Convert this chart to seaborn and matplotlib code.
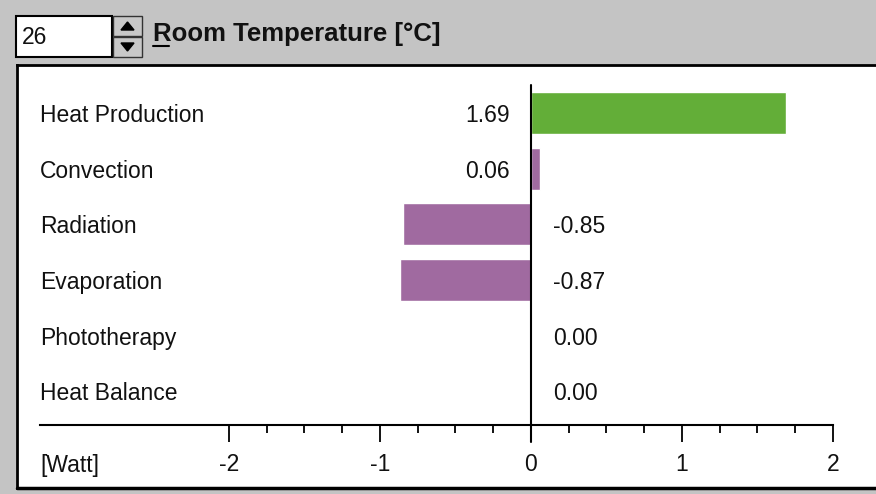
import numpy as np
import pandas as pd
import seaborn as sns
import matplotlib.pyplot as plt
from matplotlib.patches import Rectangle, Polygon
from matplotlib.lines import Line2D
from matplotlib.ticker import FixedLocator

# Data
categories = ["Heat Production", "Convection", "Radiation", "Evaporation",
              "Phototherapy", "Heat Balance"]
values = [1.69, 0.06, -0.85, -0.87, 0.00, 0.00]
bar_colors = ["#63ae38", "#a06aa0", "#a06aa0", "#a06aa0", "#a06aa0", "#a06aa0"]
major_ticks = [-2, -1, 0, 1, 2]
room_temp = "26"

W, H = 876, 494
GRAY = "#c4c4c4"
FS = 16.5

sns.set_style("white")
plt.rcParams["font.family"] = ["Liberation Sans", "DejaVu Sans"]

fig = plt.figure(figsize=(W / 100, H / 100), dpi=100, facecolor=GRAY)


def fx(x):
    return x / W


def fy(y):
    return 1 - y / H


# plot panel (white area)
ax = fig.add_axes([fx(17), fy(488), fx(876) - fx(17), fy(65) - fy(488)])
ax.set_facecolor("white")

df = pd.DataFrame({"category": categories, "value": values})
sns.barplot(data=df, x="value", y="category", hue="category",
            palette=bar_colors, legend=False, width=0.755, orient="h",
            saturation=1, ax=ax)

ax.set_xlim(-3.404, 2.285)
ax.set_ylim(6.745, -0.863)
ax.set_xlabel("")
ax.set_ylabel("")
ax.set_yticks([])

# panel border
for s in ["left", "top"]:
    ax.spines[s].set_visible(True)
    ax.spines[s].set_color("black")
    ax.spines[s].set_linewidth(2)
ax.spines["right"].set_visible(False)
ax.plot([0, 1], [0, 0], transform=ax.transAxes, color="black", lw=2.5,
        clip_on=False)

# axis line with ticks
ax.spines["bottom"].set_visible(True)
ax.spines["bottom"].set_position(("data", 5.612))
ax.spines["bottom"].set_bounds(-3.25, 2)
ax.spines["bottom"].set_color("black")
ax.spines["bottom"].set_linewidth(1.5)
ax.xaxis.set_major_locator(FixedLocator(major_ticks))
ax.xaxis.set_minor_locator(FixedLocator(np.arange(-2, 2.01, 0.25)))
ax.set_xticklabels([str(t) for t in major_ticks])
ax.tick_params(axis="x", which="major", direction="out", length=12.5,
               width=1.3, color="black", pad=8, labelsize=FS,
               labelcolor="#111111", bottom=True)
ax.tick_params(axis="x", which="minor", direction="out", length=6,
               width=1.3, color="black", bottom=True)

# zero line
ax.axvline(0, ymin=0.109, ymax=0.953, color="black", lw=1.5)

# category names and values
for i, (cat, v) in enumerate(zip(categories, values)):
    ax.annotate(cat, xy=(-3.25, i), xytext=(0, -2), textcoords="offset points",
                ha="left", va="center", fontsize=FS, color="#111111")
    if v > 0:
        ax.annotate(f"{v:.2f}", xy=(0, i), xytext=(-15, -2),
                    textcoords="offset points", ha="right", va="center",
                    fontsize=FS, color="#111111")
    else:
        ax.annotate(f"{v:.2f}", xy=(0, i), xytext=(16, -2),
                    textcoords="offset points", ha="left", va="center",
                    fontsize=FS, color="#111111")

ax.text(-3.25, 6.34, "[Watt]", ha="left", va="center", fontsize=FS,
        color="#111111")

# top bar: spin box with room temperature
fig.add_artist(Rectangle((fx(16), fy(57)), fx(96), fy(16) - fy(57),
                         transform=fig.transFigure, facecolor="white",
                         edgecolor="black", lw=1.5))
fig.text(fx(22), fy(37), room_temp, ha="left", va="center", fontsize=FS,
         color="#111111")
for y0, y1, up in [(16, 36, True), (37, 57, False)]:
    fig.add_artist(Rectangle((fx(113), fy(y1)), fx(29), fy(y0) - fy(y1),
                             transform=fig.transFigure, facecolor="#c8c8c8",
                             edgecolor="#333333", lw=1))
    cy = (y0 + y1) / 2
    if up:
        pts = [(fx(121), fy(cy + 4)), (fx(134), fy(cy + 4)), (fx(127.5), fy(cy - 4))]
    else:
        pts = [(fx(121), fy(cy - 4)), (fx(134), fy(cy - 4)), (fx(127.5), fy(cy + 4))]
    fig.add_artist(Polygon(pts, closed=True, transform=fig.transFigure,
                           facecolor="black", edgecolor="black"))

fig.text(fx(153), fy(34), "Room Temperature [°C]", ha="left", va="center",
         fontsize=18.5, fontweight="bold", color="#111111")
fig.add_artist(Line2D([fx(153), fx(169)], [fy(46), fy(46)],
                      transform=fig.transFigure, color="black", lw=1.5))

fig.savefig("out.png", dpi=100, facecolor=GRAY)
